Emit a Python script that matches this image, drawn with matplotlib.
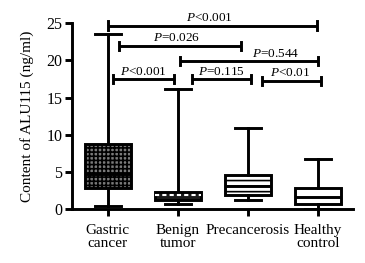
import matplotlib
matplotlib.use("Agg")
import matplotlib.pyplot as plt

plt.rcParams['font.family'] = ['Liberation Serif', 'DejaVu Serif']
plt.rcParams['mathtext.fontset'] = 'custom'
plt.rcParams['mathtext.rm'] = 'Liberation Serif'
plt.rcParams['mathtext.it'] = 'Liberation Serif:italic'
plt.rcParams['hatch.linewidth'] = 1.2

# ---- data ----
groups = ['Gastric\ncancer', 'Benign\ntumor', 'Precancerosis', 'Healthy\ncontrol']
whis_low = [0.4, 0.7, 1.17, 0.05]
q1 = [2.8, 1.2, 1.9, 0.7]
median = [4.75, 1.9, 3.1, 1.65]
q3 = [8.8, 2.25, 4.55, 2.8]
whis_high = [23.5, 16.1, 10.85, 6.7]

# significance brackets (x in group-position units)
br_x0 = [1.0, 1.157, 2.03, 1.076, 2.204, 3.204]
br_x1 = [3.98, 2.896, 3.996, 1.943, 3.039, 4.043]
br_y = [24.7, 22.0, 19.9, 17.5, 17.5, 17.25]
br_text_x = [2.45, 1.98, 3.39, 1.50, 2.62, 3.60]
p_labels = [r'$P$<0.001', r'$P$=0.026', r'$P$=0.544', r'$P$<0.001', r'$P$=0.115', r'$P$<0.01']

y_ticks = [0, 5, 10, 15, 20, 25]

fig = plt.figure(figsize=(3.65, 2.63), dpi=100)
ax = fig.add_axes([0.197, 0.2053, 0.77, 0.706])

stats = []
for i in range(len(groups)):
    stats.append(dict(whislo=whis_low[i], q1=q1[i], med=median[i], q3=q3[i],
                      whishi=whis_high[i], fliers=[]))
pos = list(range(1, len(groups) + 1))
lw = 2.1
bp = ax.bxp(stats, positions=pos, widths=0.65, patch_artist=True, showfliers=False,
            boxprops=dict(linewidth=lw, edgecolor='black'),
            whiskerprops=dict(linewidth=lw, color='black'),
            capprops=dict(linewidth=lw, color='black'),
            medianprops=dict(linewidth=lw, color='black'),
            capwidths=0.37)

faces = ['#7a7a7a', '#1a1a1a', 'white', 'white']
hatches = ['++++', '', '---', '']
for b, fc, h in zip(bp['boxes'], faces, hatches):
    b.set_facecolor(fc)
    b.set_hatch(h)
# benign tumor median: white dashed
bp['medians'][1].set_color('white')
bp['medians'][1].set_linestyle((0, (2, 1.5)))
bp['medians'][1].set_linewidth(1.5)

ax.set_xlim(0.486, 4.5)
ax.set_ylim(0, 25)
ax.set_yticks(y_ticks)
ax.set_xticks(pos)
ax.set_xticklabels(groups, fontsize=11, linespacing=0.95)
ax.tick_params(axis='y', labelsize=11.5, width=lw, length=5, pad=2)
ax.tick_params(axis='x', width=lw, length=5, pad=6)
for s in ['top', 'right']:
    ax.spines[s].set_visible(False)
for s in ['left', 'bottom']:
    ax.spines[s].set_linewidth(lw)
ax.set_ylabel('Content of ALU115 (ng/ml)', fontsize=11, labelpad=9)

cap = 0.55
for x0, x1, y, tx, lab in zip(br_x0, br_x1, br_y, br_text_x, p_labels):
    ax.plot([x0, x1], [y, y], color='black', lw=lw, clip_on=False, solid_capstyle='butt')
    ax.plot([x0, x0], [y - cap, y + cap], color='black', lw=lw, clip_on=False)
    ax.plot([x1, x1], [y - cap, y + cap], color='black', lw=lw, clip_on=False)
    ax.annotate(lab, (tx, y), xytext=(0, 1.0), textcoords='offset points',
                ha='center', va='bottom', fontsize=9.5, annotation_clip=False)

fig.savefig('out.png', dpi=100)
